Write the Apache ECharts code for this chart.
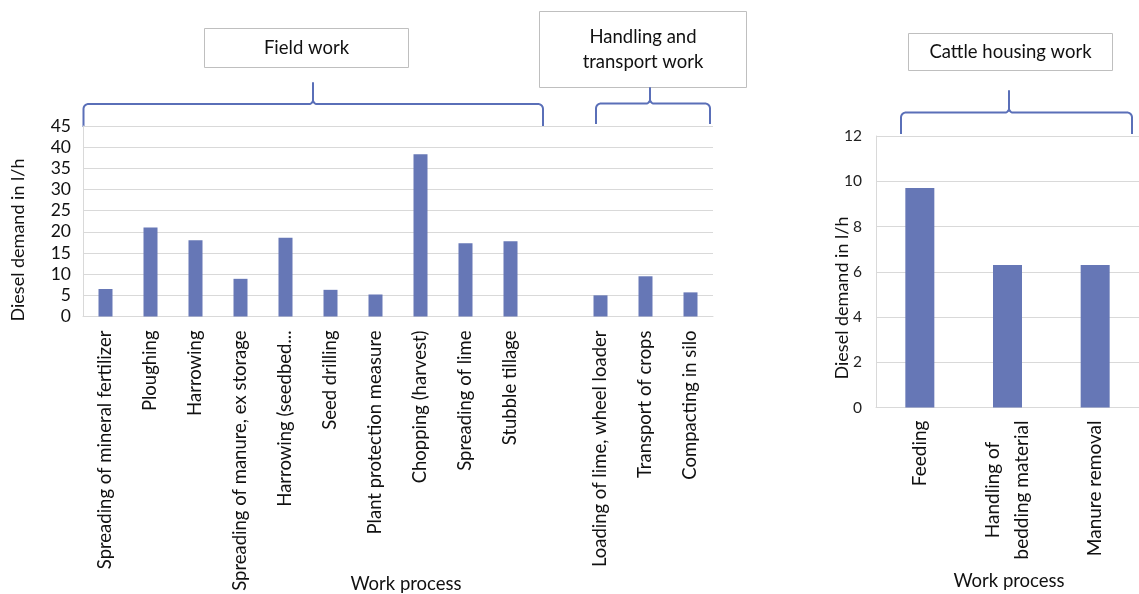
<!DOCTYPE html>
<html>
<head>
<meta charset="utf-8">
<script src="https://cdn.jsdelivr.net/npm/echarts@6/dist/echarts.min.js"></script>
<style>
  html, body { margin: 0; padding: 0; background: #ffffff; }
  #chart { width: 1139px; height: 594px; }
</style>
</head>
<body>
<div id="chart"></div>
<script>
// Field work processes and their diesel demand (l/h)
const fieldWork = [
  'Spreading of mineral fertilizer', 'Ploughing', 'Harrowing',
  'Spreading of manure, ex storage', 'Harrowing (seedbed...', 'Seed drilling',
  'Plant protection measure', 'Chopping (harvest)', 'Spreading of lime', 'Stubble tillage'
];
const fieldValues = [6.5, 21.0, 18.0, 8.9, 18.6, 6.3, 5.2, 38.3, 17.3, 17.8];

// Handling and transport work
const transportWork = ['Loading of lime, wheel loader', 'Transport of crops', 'Compacting in silo'];
const transportValues = [5.0, 9.5, 5.7];

// Cattle housing work
const housingWork = ['Feeding', 'Handling of\nbedding material', 'Manure removal'];
const housingValues = [9.7, 6.3, 6.3];

// Value axis ranges
const leftAxisMax = 45, leftAxisStep = 5;
const rightAxisMax = 12, rightAxisStep = 2;

// Left chart: field work, an empty slot, then handling/transport work
const leftCategories = fieldWork.concat([''], transportWork);
const leftValues = fieldValues.concat([null], transportValues);

const FONT = 'Lato, "Open Sans", sans-serif';
const BAR = '#6677b6';
const BRACE = '#5a6fb8';
const GRID_LINE = '#d9d9d9';

// Curly brace drawn as a polyline with rounded corners and a central cusp
function brace(x1, x2, yLine, yEnd, xPeak, yPeak) {
  const r = 5, r2 = 4, n = 8, pts = [];
  pts.push([x1, yEnd]);
  for (let i = 0; i <= n; i++) {
    const t = Math.PI + (Math.PI / 2) * i / n;
    pts.push([x1 + r + r * Math.cos(t), yLine + r + r * Math.sin(t)]);
  }
  for (let i = 0; i <= n; i++) {
    const t = Math.PI / 2 - (Math.PI / 2) * i / n;
    pts.push([xPeak - r2 + r2 * Math.cos(t), yLine - r2 + r2 * Math.sin(t)]);
  }
  pts.push([xPeak, yPeak]);
  for (let i = 0; i <= n; i++) {
    const t = Math.PI - (Math.PI / 2) * i / n;
    pts.push([xPeak + r2 + r2 * Math.cos(t), yLine - r2 + r2 * Math.sin(t)]);
  }
  for (let i = 0; i <= n; i++) {
    const t = -Math.PI / 2 + (Math.PI / 2) * i / n;
    pts.push([x2 - r + r * Math.cos(t), yLine + r + r * Math.sin(t)]);
  }
  pts.push([x2, yEnd]);
  return {
    type: 'polyline',
    shape: { points: pts },
    style: { stroke: BRACE, lineWidth: 2, fill: null, lineJoin: 'round' },
    silent: true
  };
}

function box(x, y, w, h, text, fontSize) {
  return [
    {
      type: 'rect',
      shape: { x: x, y: y, width: w, height: h },
      style: { fill: '#ffffff', stroke: '#bfbfbf', lineWidth: 1 },
      silent: true
    },
    {
      type: 'text',
      x: x + w / 2, y: y + h / 2,
      style: {
        text: text, fill: '#111111', font: fontSize + 'px ' + FONT,
        textAlign: 'center', textVerticalAlign: 'middle', lineHeight: 25
      },
      silent: true
    }
  ];
}

function label(text, x, y, size, rotated) {
  return {
    type: 'text',
    x: x, y: y,
    rotation: rotated ? Math.PI / 2 : 0,
    style: {
      text: text, fill: '#111111', font: size + 'px ' + FONT,
      textAlign: 'center', textVerticalAlign: 'middle'
    },
    silent: true
  };
}

const chart = echarts.init(document.getElementById('chart'), null, { renderer: 'canvas' });

chart.setOption({
  animation: false,
  backgroundColor: '#ffffff',
  grid: [
    { left: 83, top: 126, width: 630, height: 190.5, containLabel: false },
    { left: 876, top: 136, width: 273, height: 271.5, containLabel: false }
  ],
  xAxis: [
    {
      gridIndex: 0, type: 'category', data: leftCategories,
      axisLine: { lineStyle: { color: GRID_LINE, width: 1 } },
      axisTick: { show: false },
      axisLabel: { interval: 0, rotate: 90, margin: 14, color: '#111111', fontSize: 18.5, fontFamily: FONT }
    },
    {
      gridIndex: 1, type: 'category', data: housingWork,
      axisLine: { lineStyle: { color: GRID_LINE, width: 1 } },
      axisTick: { show: false },
      axisLabel: {
        interval: 0, rotate: 90, margin: 13, color: '#111111', fontSize: 19, fontFamily: FONT,
        lineHeight: 29,
        formatter: function (v) {
          return v.split('\n').map(function (s) { return '{c|' + s + '}'; }).join('\n');
        },
        rich: { c: { align: 'center', fontSize: 19, fontFamily: FONT, color: '#111111', lineHeight: 29 } }
      }
    }
  ],
  yAxis: [
    {
      gridIndex: 0, type: 'value', min: 0, max: leftAxisMax, interval: leftAxisStep,
      axisLine: { show: true, lineStyle: { color: GRID_LINE } },
      axisTick: { show: false },
      splitLine: { lineStyle: { color: GRID_LINE, width: 1 } },
      axisLabel: { margin: 12, color: '#111111', fontSize: 17.5, fontFamily: FONT }
    },
    {
      gridIndex: 1, type: 'value', min: 0, max: rightAxisMax, interval: rightAxisStep,
      axisLine: { show: true, lineStyle: { color: GRID_LINE } },
      axisTick: { show: false },
      splitLine: { lineStyle: { color: GRID_LINE, width: 1 } },
      axisLabel: { margin: 14, color: '#222222', fontSize: 15.5, fontFamily: FONT }
    }
  ],
  series: [
    {
      type: 'bar', xAxisIndex: 0, yAxisIndex: 0, data: leftValues,
      barWidth: 14, itemStyle: { color: BAR }, silent: true
    },
    {
      type: 'bar', xAxisIndex: 1, yAxisIndex: 1, data: housingValues,
      barWidth: 29, itemStyle: { color: BAR }, silent: true
    }
  ],
  graphic: [].concat(
    box(204.5, 28.5, 204, 39, 'Field work', 18.5),
    box(539.5, 11.5, 207, 76, 'Handling and\ntransport work', 18.5),
    box(908.5, 33.5, 204, 37, 'Cattle housing work', 18.5),
    [
      brace(83.5, 543, 104, 127, 313, 83),
      brace(596, 710, 103.5, 124, 650, 88),
      brace(901, 1132, 112.5, 134, 1009, 91),
      label('Diesel demand in l/h', 18, 240, 18, true),
      label('Diesel demand in l/h', 842, 298, 18, true),
      label('Work process', 406, 584, 18.5, false),
      label('Work process', 1009, 581, 18.5, false)
    ]
  )
});
</script>
</body>
</html>
